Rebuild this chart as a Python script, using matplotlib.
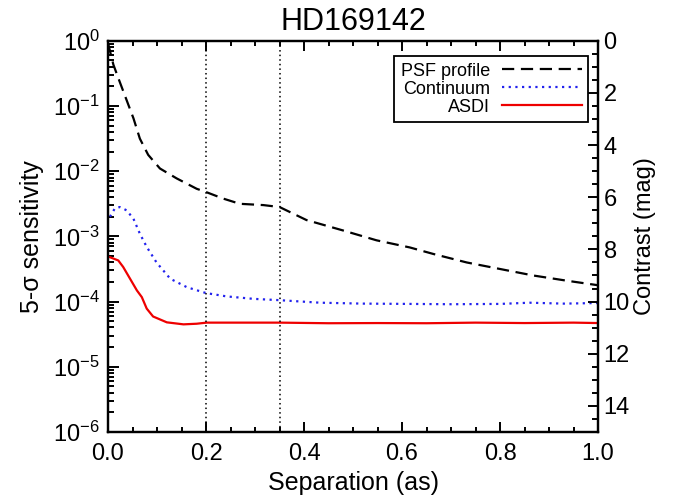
import matplotlib
matplotlib.use("Agg")
import matplotlib.pyplot as plt
from matplotlib.ticker import MultipleLocator, LogLocator, NullFormatter

plt.rcParams['font.family'] = ['Liberation Sans', 'DejaVu Sans']
plt.rcParams['mathtext.fontset'] = 'custom'
plt.rcParams['mathtext.rm'] = 'Liberation Sans'
plt.rcParams['mathtext.it'] = 'Liberation Sans:italic'

title = "HD169142"

psf_sep = [0.0, 0.011, 0.024, 0.038, 0.052, 0.065, 0.082, 0.106, 0.14, 0.181, 0.2,
           0.235, 0.269, 0.317, 0.35, 0.405, 0.48, 0.548, 0.616, 0.664, 0.732,
           0.8, 0.868, 0.936, 1.0]
psf_val = [0.92, 0.43, 0.234, 0.123, 0.0646, 0.0316, 0.0178, 0.011, 0.00776,
           0.00537, 0.00479, 0.0038, 0.00316, 0.00302, 0.00282, 0.00178, 0.00123,
           8.7e-4, 6.76e-4, 5.37e-4, 3.98e-4, 3.16e-4, 2.51e-4, 2.09e-4, 1.78e-4]

cont_sep = [0.004, 0.014, 0.024, 0.038, 0.052, 0.065, 0.079, 0.099, 0.127, 0.161,
            0.2, 0.242, 0.297, 0.35, 0.433, 0.52, 0.616, 0.7, 0.8, 0.86, 0.93, 1.0]
cont_val = [2.0e-3, 2.69e-3, 2.82e-3, 2.51e-3, 1.86e-3, 1.10e-3, 6.9e-4, 3.98e-4,
            2.24e-4, 1.66e-4, 1.35e-4, 1.20e-4, 1.10e-4, 1.05e-4, 9.6e-5, 9.3e-5,
            9.2e-5, 9.1e-5, 9.2e-5, 9.6e-5, 9.3e-5, 9.5e-5]

asdi_sep = [0.004, 0.021, 0.031, 0.045, 0.059, 0.069, 0.079, 0.092, 0.12, 0.154,
            0.181, 0.201, 0.25, 0.35, 0.45, 0.55, 0.65, 0.75, 0.85, 0.95, 1.0]
asdi_val = [4.79e-4, 4.27e-4, 3.39e-4, 2.24e-4, 1.48e-4, 1.17e-4, 7.8e-5, 5.9e-5,
            4.8e-5, 4.47e-5, 4.57e-5, 4.75e-5, 4.75e-5, 4.75e-5, 4.65e-5, 4.68e-5,
            4.65e-5, 4.75e-5, 4.68e-5, 4.75e-5, 4.68e-5]

vlines = [0.2, 0.35]

fig = plt.figure(figsize=(6.75, 5.04), dpi=100)
ax = fig.add_axes([0.16, 0.143, 0.726, 0.776])

ax.plot(psf_sep, psf_val, color='black', lw=1.6, linestyle=(0, (5.5, 3)), label='PSF profile')
ax.plot(cont_sep, cont_val, color='#2222ee', lw=1.6, linestyle=(0, (1, 2)), label='Continuum')
ax.plot(asdi_sep, asdi_val, color='#ee0000', lw=1.6, linestyle='-', label='ASDI')
for v in vlines:
    ax.axvline(v, color='black', lw=1.1, linestyle=(0, (1, 2)))

ax.set_yscale('log')
ax.set_xlim(0, 1.0)
ax.set_ylim(1e-6, 1e0)
ax.xaxis.set_major_locator(MultipleLocator(0.2))
ax.xaxis.set_minor_locator(MultipleLocator(0.05))
ax.xaxis.set_major_formatter(plt.FuncFormatter(lambda v, p: f"{v:.1f}"))
ax.yaxis.set_major_locator(LogLocator(base=10, numticks=10))
ax.yaxis.set_minor_locator(LogLocator(base=10, subs=range(2, 10), numticks=20))
ax.yaxis.set_minor_formatter(NullFormatter())

ax.tick_params(axis='both', which='both', direction='in', labelsize=17, width=1.4)
ax.tick_params(axis='x', which='both', top=True)
ax.tick_params(axis='x', which='major', length=7, pad=8)
ax.tick_params(axis='x', which='minor', length=3.5)
ax.tick_params(axis='y', which='major', length=8, pad=6)
ax.tick_params(axis='y', which='minor', length=4)
for s in ax.spines.values():
    s.set_linewidth(1.6)

ax.set_xlabel('Separation (as)', fontsize=18, labelpad=4)
ax.set_ylabel('5-σ sensitivity', fontsize=18, labelpad=6)
ax.set_title(title, fontsize=22, pad=8)

ax2 = ax.twinx()
ax2.set_ylim(15, 0)
ax2.yaxis.set_major_locator(MultipleLocator(2))
ax2.yaxis.set_minor_locator(MultipleLocator(0.5))
ax2.tick_params(axis='y', which='both', direction='in', labelsize=17, width=1.4)
ax2.tick_params(axis='y', which='major', length=7, pad=4)
ax2.tick_params(axis='y', which='minor', length=4)
ax2.set_ylabel('Contrast (mag)', fontsize=17, labelpad=3)
for s in ax2.spines.values():
    s.set_linewidth(1.6)

leg = ax.legend(loc='upper right', bbox_to_anchor=(0.98, 0.96), borderaxespad=0,
                markerfirst=False, fontsize=13, handlelength=4.4, handletextpad=0.7,
                labelspacing=0.05, borderpad=0.35, fancybox=False, framealpha=1)
leg.get_frame().set_edgecolor('black')
leg.get_frame().set_linewidth(1.3)

fig.savefig('out.png', dpi=100)
